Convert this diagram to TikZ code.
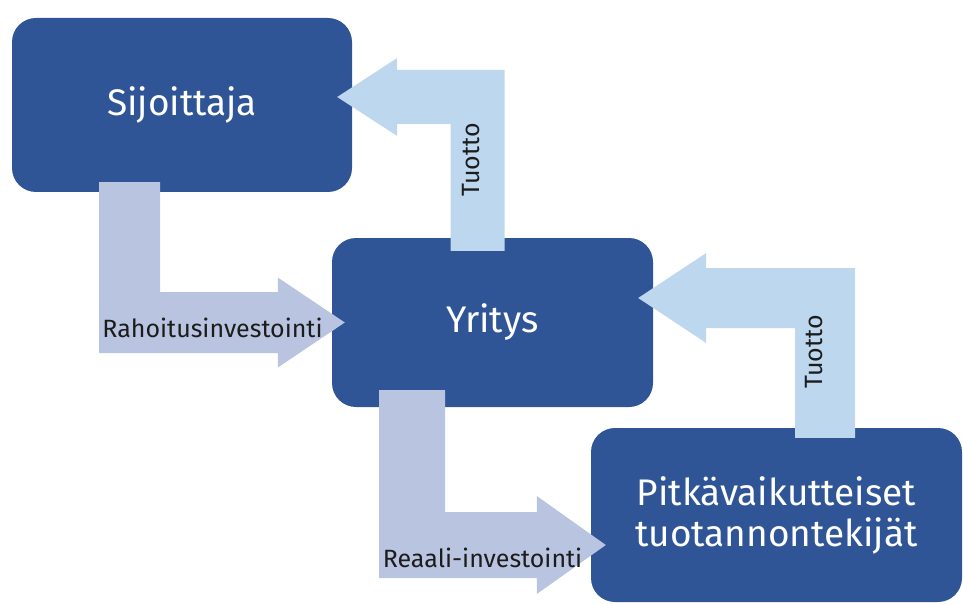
\documentclass[tikz,border=0pt]{standalone}
\usepackage{fontspec}
\setmainfont{Fira Sans}
\usepackage{xcolor}
\usetikzlibrary{calc}
\definecolor{boxblue}{HTML}{2F5597}
\definecolor{lavender}{HTML}{B9C4E1}
\definecolor{paleblue}{HTML}{BDD7EE}
\definecolor{inkgray}{HTML}{1C1C1C}
\tikzset{>=stealth,
    box/.style = {fill=boxblue, rounded corners=24pt, text=white, align=center, inner sep=0pt, font=\fontsize{37}{41}\selectfont},
    flowlabel/.style = {text=inkgray, inner sep=0pt, font=\fontsize{25}{28}\selectfont}}
\newcommand{\bentarrow}[6]{%
    \fill [#1] let \p1=(#2), \p2=(#3), \n1={sign(\x2-\x1)}, \n2={sign(\y2-\y1)} in
        (\x1-\n1*#4, \y1) -- (\x1-\n1*#4, \y2+\n2*#4) -- (\x2-\n1*#6, \y2+\n2*#4)
        -- (\x2-\n1*#6, \y2+\n2*#5) -- (\x2, \y2) -- (\x2-\n1*#6, \y2-\n2*#5)
        -- (\x2-\n1*#6, \y2-\n2*#4) -- (\x1+\n1*#4, \y2-\n2*#4) -- (\x1+\n1*#4, \y1) -- cycle;}

\begin{document}
\begin{tikzpicture}[x=1pt, y=-1pt]
    \useasboundingbox (0,0) rectangle (963,604);
    \node [box, minimum width=340pt, minimum height=174pt] (sij) at (182,105) {Sijoittaja};
    \node [box, minimum width=321pt, minimum height=169pt] (yri) at (492.5,322.5) {Yritys};
    \node [box, minimum width=371pt, minimum height=174pt] (pit) at (776.5,515) {Pitkävaikutteiset\\tuotannontekijät};
    \bentarrow{lavender}{$(sij.south)+(-52.5,-10)$}{$(yri.west)+(13,0)$}{30.5pt}{45pt}{67pt}
    \bentarrow{paleblue}{$(yri.north)+(-15,13)$}{$(sij.east)+(-15,-8)$}{27pt}{39pt}{60pt}
    \bentarrow{paleblue}{$(pit.north)+(48.5,10)$}{$(yri.east)+(-15,-24.5)$}{30pt}{45pt}{68pt}
    \bentarrow{lavender}{$(yri.south)+(-80.5,-17)$}{$(pit.west)+(15,30)$}{33pt}{49pt}{69pt}
    \node [flowlabel, anchor=base] (rah) at (212.5,337) {Rahoitusinvestointi};
    \node [flowlabel, anchor=base] (rea) at (482.5,567) {Reaali-investointi};
    \node [flowlabel, rotate=90] (tuo1) at (471,160) {Tuotto};
    \node [flowlabel, rotate=90] (tuo2) at (814,352) {Tuotto};
\end{tikzpicture}
\end{document}
